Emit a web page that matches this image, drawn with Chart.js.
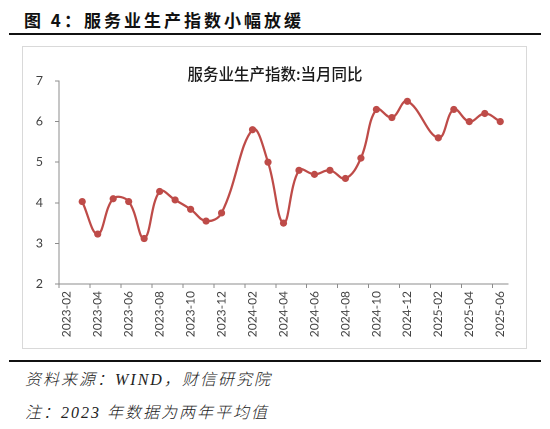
<!DOCTYPE html>
<html lang="zh-CN">
<head>
<meta charset="UTF-8" />
<title>服务业生产指数小幅放缓</title>
<script src="https://cdn.jsdelivr.net/npm/chart.js@4.4.1/dist/chart.umd.min.js"></script>
<style>
  body { margin: 0; width: 550px; height: 429px; background: #fff; position: relative; overflow: hidden; }
  .rule { position: absolute; left: 9px; width: 532px; height: 2px; background: #111; }
  #figTitle { position: absolute; left: 24px; top: 7px; font: bold 17px "Noto Sans CJK SC", sans-serif; letter-spacing: 3px; color: #111; white-space: nowrap; }
  #box { position: absolute; left: 22px; top: 46px; width: 503px; height: 301px; border: 1px solid #d9d9d9; }
  #chartTitle { position: absolute; left: 0; width: 550px; top: 62px; text-align: center; font: 500 15.5px "Noto Sans CJK SC", sans-serif; color: #1a1a1a; }
  .note { position: absolute; left: 25px; font-family: "Liberation Serif", "Noto Sans CJK SC", serif; font-style: italic; font-weight: 300; font-size: 16px; letter-spacing: 2px; line-height: 20px; color: #222; white-space: nowrap; }
</style>
</head>
<body>
  <div id="figTitle">图 4：服务业生产指数小幅放缓</div>
  <div class="rule" style="top:33px"></div>
  <div id="box"><canvas id="svcChart" width="503" height="301"></canvas></div>
  <div id="chartTitle">服务业生产指数:当月同比</div>
  <div class="rule" style="top:360px"></div>
  <div class="note" style="top:370px">资料来源：WIND，财信研究院</div>
  <div class="note" style="top:403px">注：2023 年数据为两年平均值</div>

<script>
  // months on the category axis (2023-02 .. 2025-06)
  const months = [
    '2023-02', '2023-03', '2023-04', '2023-05', '2023-06', '2023-07', '2023-08', '2023-09', '2023-10', '2023-11', '2023-12',
    '2024-01', '2024-02', '2024-03', '2024-04', '2024-05', '2024-06', '2024-07', '2024-08', '2024-09', '2024-10', '2024-11', '2024-12',
    '2025-01', '2025-02', '2025-03', '2025-04', '2025-05', '2025-06'
  ];

  // 服务业生产指数:当月同比 (%), null = no release (Jan)
  const yoy = [
    null, 4.03, 3.23, 4.1, 4.03, 3.12, 4.28, 4.07, 3.84, 3.55, 3.75,
    null, 5.8, 5.0, 3.5, 4.8, 4.7, 4.8, 4.6, 5.1, 6.3, 6.1, 6.5,
    null, 5.6, 6.3, 6.0, 6.2, 6.0
  ];

  // y axis ticks
  const yTicks = [2, 3, 4, 5, 6, 7];

  const lineColor = '#BE4B48';
  const axisColor = '#8c8c8c';

  // only every second boundary gets a tick mark
  const everyOther = ctx => (ctx.index !== undefined && ctx.index % 2 === 0) ? axisColor : 'rgba(0,0,0,0)';

  const ctx = document.getElementById('svcChart').getContext('2d');
  const svcChart = new Chart(ctx, {
    type: 'line',
    data: {
      labels: months,
      datasets: [{
        label: '服务业生产指数:当月同比',
        data: yoy,
        borderColor: lineColor,
        backgroundColor: lineColor,
        borderWidth: 2.25,
        pointRadius: 3.6,
        pointBackgroundColor: lineColor,
        pointBorderColor: lineColor,
        pointBorderWidth: 0,
        tension: 0.4,
        spanGaps: true
      }]
    },
    options: {
      responsive: false,
      animation: false,
      devicePixelRatio: 2,
      layout: { padding: { top: 34, right: 18, left: 0, bottom: 0 } },
      plugins: {
        legend: { display: false },
        title: { display: false },
        tooltip: { enabled: false }
      },
      scales: {
        x: {
          type: 'category',
          offset: true,
          afterFit: s => { s.height = 64; },
          border: { display: true, color: axisColor, width: 1 },
          grid: {
            offset: true,
            drawOnChartArea: false,
            drawTicks: true,
            tickLength: 4,
            color: everyOther,
            tickColor: everyOther
          },
          ticks: {
            autoSkip: false,
            minRotation: 90,
            maxRotation: 90,
            padding: 3,
            color: '#404040',
            font: { family: 'Lato', size: 12 },
            callback: (v, i) => i % 2 === 0 ? months[i] : ''
          }
        },
        y: {
          min: yTicks[0],
          max: yTicks[yTicks.length - 1],
          afterFit: s => { s.width = 36; },
          afterBuildTicks: s => { s.ticks = yTicks.map(v => ({ value: v })); },
          border: { display: true, color: axisColor, width: 1 },
          grid: {
            drawOnChartArea: false,
            drawTicks: true,
            tickLength: 4,
            color: axisColor
          },
          ticks: {
            padding: 12,
            color: '#404040',
            font: { family: 'Lato', size: 12.5 }
          }
        }
      }
    }
  });
</script>
</body>
</html>
